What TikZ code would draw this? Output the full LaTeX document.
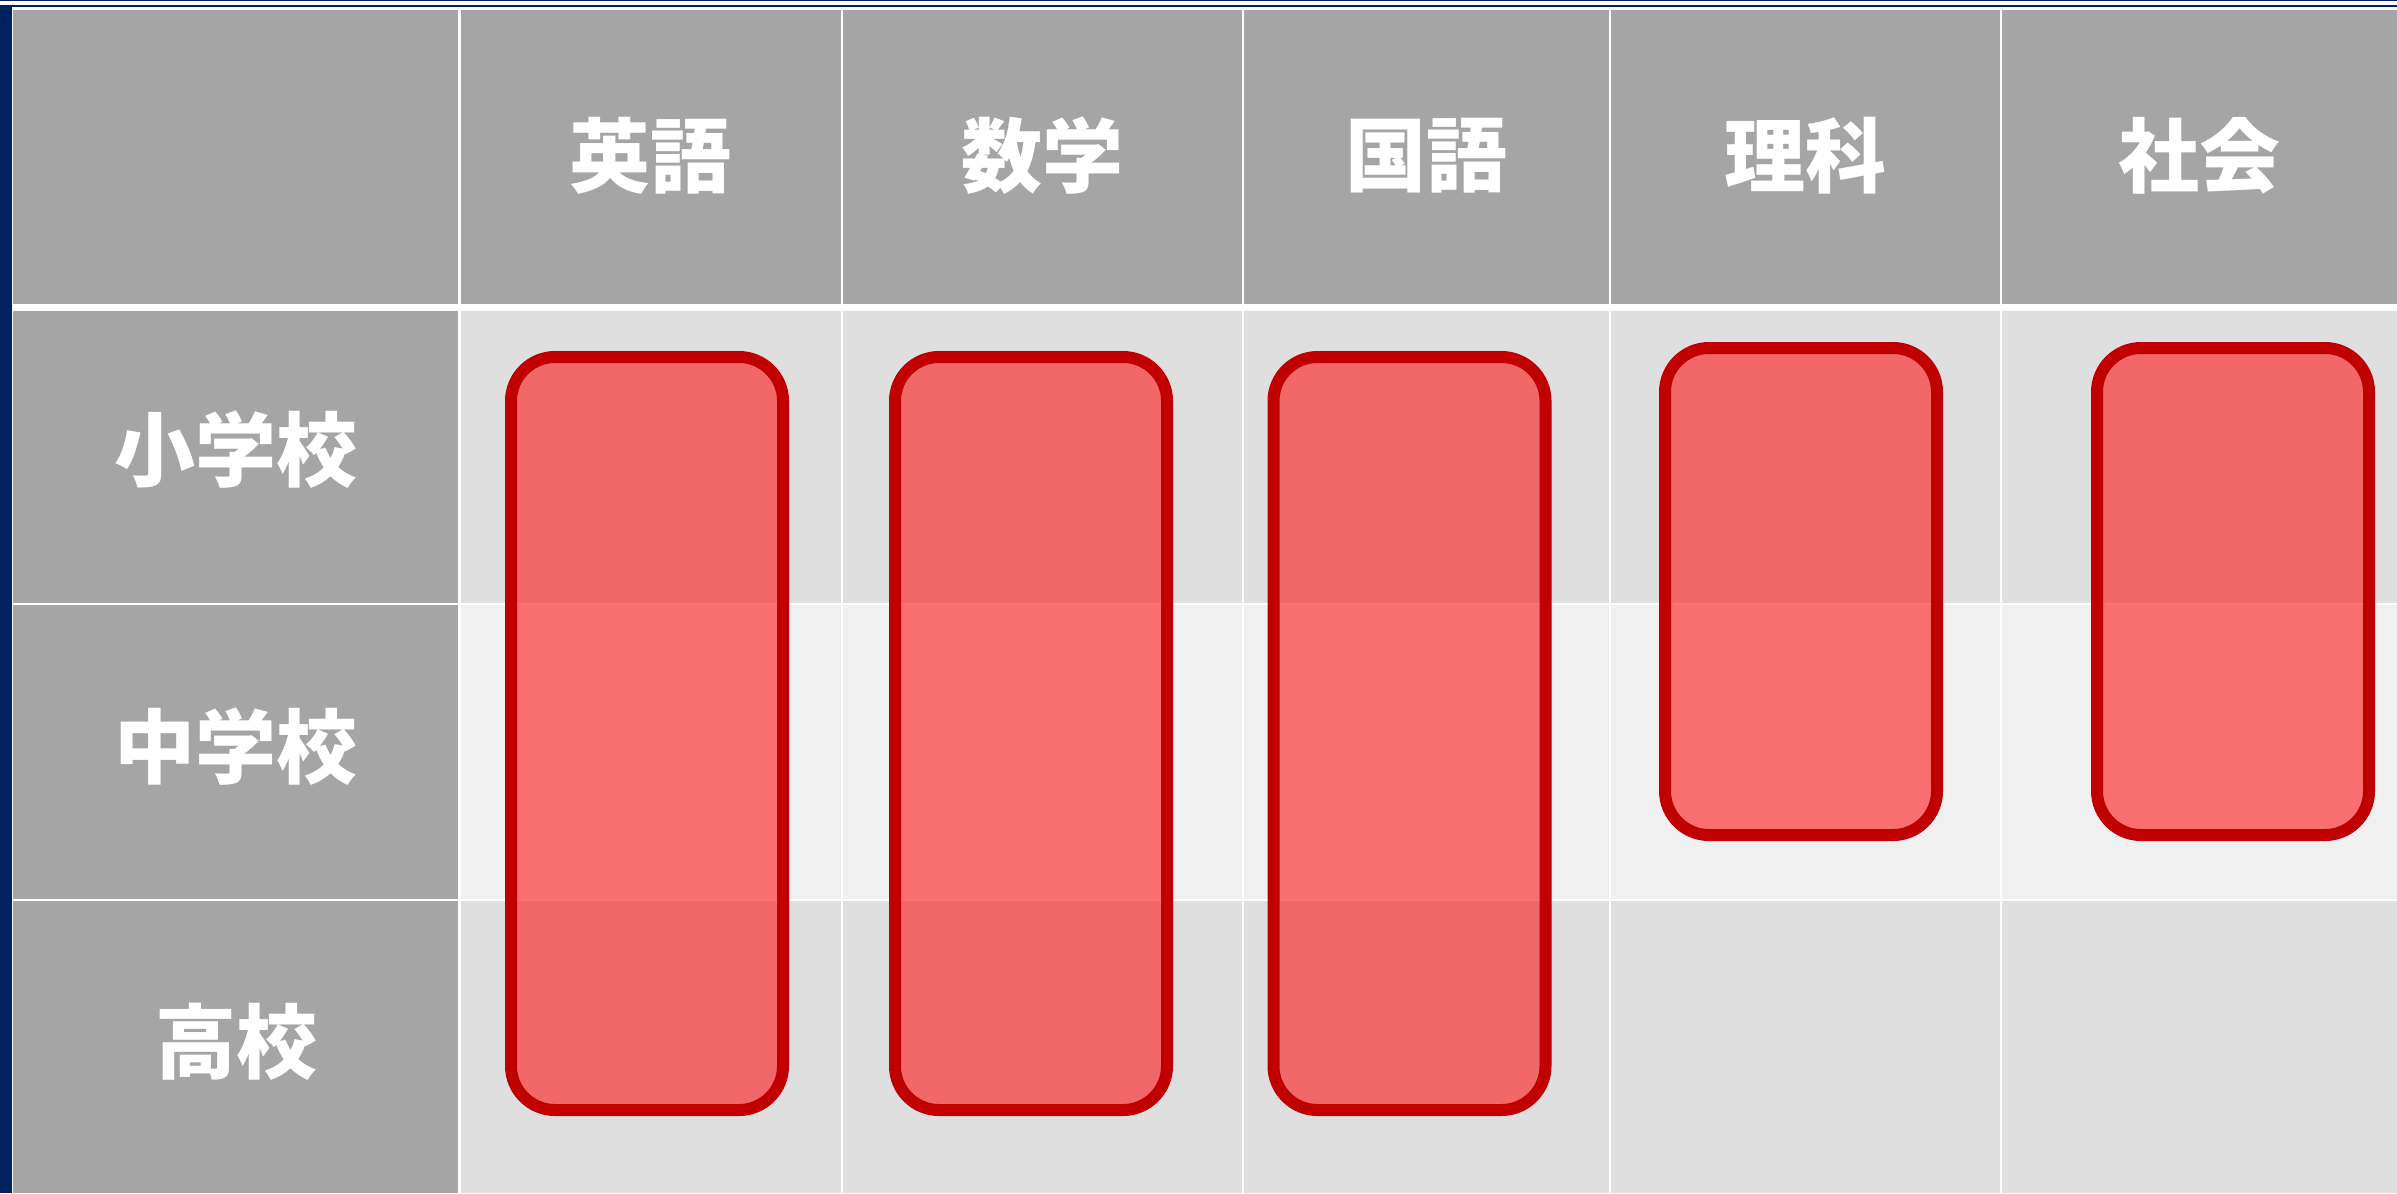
\documentclass[tikz,border=0pt]{standalone}
\usepackage{fontspec}
\newfontfamily\jp{Noto Sans CJK JP}
\definecolor{navy}{HTML}{002060}
\definecolor{hdrgray}{HTML}{A5A5A5}
\definecolor{rowa}{HTML}{DFDFDF}
\definecolor{rowb}{HTML}{F0F0F0}
\definecolor{barline}{HTML}{C00000}
\definecolor{barfill}{RGB}{255,25,25}
\tikzset{
  hdrtext/.style={text=white, font=\jp\bfseries\fontsize{81bp}{96bp}\selectfont, inner sep=0pt},
  gridline/.style={white, line width=2.5bp},
  barbox/.style={draw=barline, line width=12bp, fill=barfill, fill opacity=0.6, draw opacity=1,
    rounded corners=44bp, minimum width=272bp, inner sep=0pt, outer sep=0pt}
}
\begin{document}
\begin{tikzpicture}[x=1bp,y=-1bp]
\useasboundingbox (0,0) rectangle (2397,1193);
\fill[white] (0,0) rectangle (2397,1193);
% navy frame
\fill[navy] (0,0) rectangle (2397,1.3);
\fill[navy] (0,5) rectangle (2397,7);
\fill[navy] (0,5) rectangle (12,1193);
% header row and first column
\fill[hdrgray] (13,10) rectangle (2397,304);
\fill[hdrgray] (13,311) rectangle (459,1193);
% body rows
\fill[rowa] (459,311) rectangle (2397,604);
\fill[rowb] (459,604) rectangle (2397,900);
\fill[rowa] (459,900) rectangle (2397,1193);
% grid lines
\foreach \x in {459.5,842,1243,1610,2001} \draw[gridline] (\x,10) -- (\x,1193);
\foreach \y in {604,900} \draw[gridline] (13,\y) -- (2397,\y);
% header labels
\node[hdrtext] (h1) at (650.5,156) {英語};
\node[hdrtext] (h2) at (1042.5,156) {数学};
\node[hdrtext] (h3) at (1426.5,156) {国語};
\node[hdrtext] (h4) at (1805.5,156) {理科};
\node[hdrtext] (h5) at (2199,156) {社会};
% row labels
\node[hdrtext] (r1) at (236,450) {小学校};
\node[hdrtext] (r2) at (236,747) {中学校};
\node[hdrtext] (r3) at (236,1042) {高校};
% bars
\node[barbox, minimum height=753bp] (b1) at (647,733.5) {};
\node[barbox, minimum height=753bp] (b2) at (1031,733.5) {};
\node[barbox, minimum height=753bp] (b3) at (1409.5,733.5) {};
\node[barbox, minimum height=487bp] (b4) at (1801,591.5) {};
\node[barbox, minimum height=487bp] (b5) at (2233,591.5) {};
\end{tikzpicture}
\end{document}
